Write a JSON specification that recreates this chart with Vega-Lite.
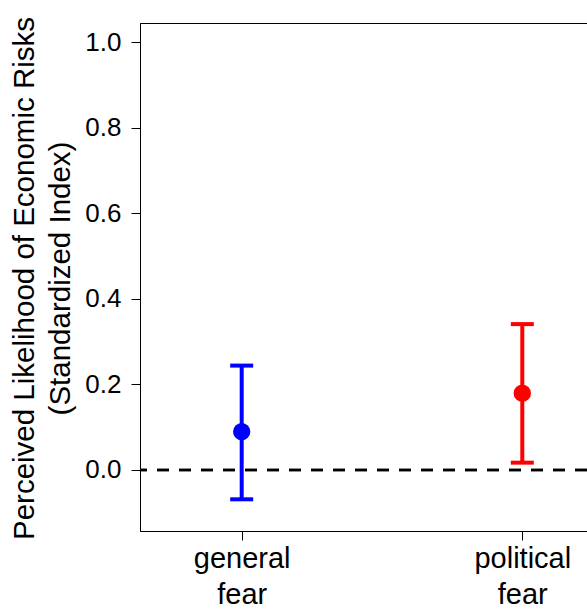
{
  "$schema": "https://vega.github.io/schema/vega-lite/v6.json",
  "autosize": "none",
  "width": 447,
  "height": 508,
  "padding": {"left": 140, "top": 23, "right": 0, "bottom": 78},
  "background": "white",
  "config": {
    "font": "Liberation Sans",
    "view": {"stroke": "black", "strokeWidth": 1},
    "axis": {"grid": false, "domainColor": "black", "tickColor": "black", "labelColor": "black", "titleColor": "black", "titleFontWeight": "normal", "labelFont": "Liberation Sans", "titleFont": "Liberation Sans"}
  },
  "data": {
    "values": [
      {"pos": 1, "group": "general fear", "mean": 0.0896, "lo": -0.0686, "hi": 0.244},
      {"pos": 2, "group": "political fear", "mean": 0.1795, "lo": 0.0171, "hi": 0.341}
    ]
  },
  "encoding": {
    "x": {
      "field": "pos", "type": "quantitative",
      "scale": {"domain": [0.6376, 2.2306], "nice": false, "zero": false},
      "axis": {
        "title": null, "values": [1, 2], "tickSize": 9, "labelFontSize": 29,
        "labelPadding": 4, "labelLineHeight": 36, "labelBaseline": "top",
        "labelExpr": "datum.value == 1 ? ['general', 'fear'] : ['political', 'fear']",
        "domain": true
      }
    },
    "color": {
      "field": "group", "type": "nominal",
      "scale": {"domain": ["general fear", "political fear"], "range": ["#0000ff", "#ff0000"]},
      "legend": null
    }
  },
  "layer": [
    {
      "mark": {"type": "rule", "strokeDash": [12, 10], "strokeWidth": 2.5, "color": "black", "opacity": 1},
      "encoding": {"y": {"datum": 0, "type": "quantitative"}, "x": null, "color": null}
    },
    {
      "mark": {"type": "rule", "strokeWidth": 4, "opacity": 1},
      "encoding": {
        "y": {
          "field": "lo", "type": "quantitative",
          "scale": {"domain": [-0.1427, 1.045], "nice": false, "zero": false},
          "axis": {
            "title": ["Perceived Likelihood of Economic Risks", "(Standardized Index)"],
            "values": [0, 0.2, 0.4, 0.6, 0.8, 1.0], "format": ".1f",
            "tickSize": 9, "labelFontSize": 26, "labelPadding": 10,
            "titleFontSize": 29.5, "titleLineHeight": 36,
            "titleAngle": -90, "titleAlign": "center", "titleBaseline": "alphabetic",
            "titleX": -107, "titleY": 255
          }
        },
        "y2": {"field": "hi"}
      }
    },
    {
      "mark": {"type": "tick", "orient": "horizontal", "size": 23, "thickness": 4, "opacity": 1},
      "encoding": {"y": {"field": "lo", "type": "quantitative"}}
    },
    {
      "mark": {"type": "tick", "orient": "horizontal", "size": 23, "thickness": 4, "opacity": 1},
      "encoding": {"y": {"field": "hi", "type": "quantitative"}}
    },
    {
      "mark": {"type": "point", "filled": true, "opacity": 1, "size": 300, "shape": "circle"},
      "encoding": {"y": {"field": "mean", "type": "quantitative"}}
    }
  ]
}
